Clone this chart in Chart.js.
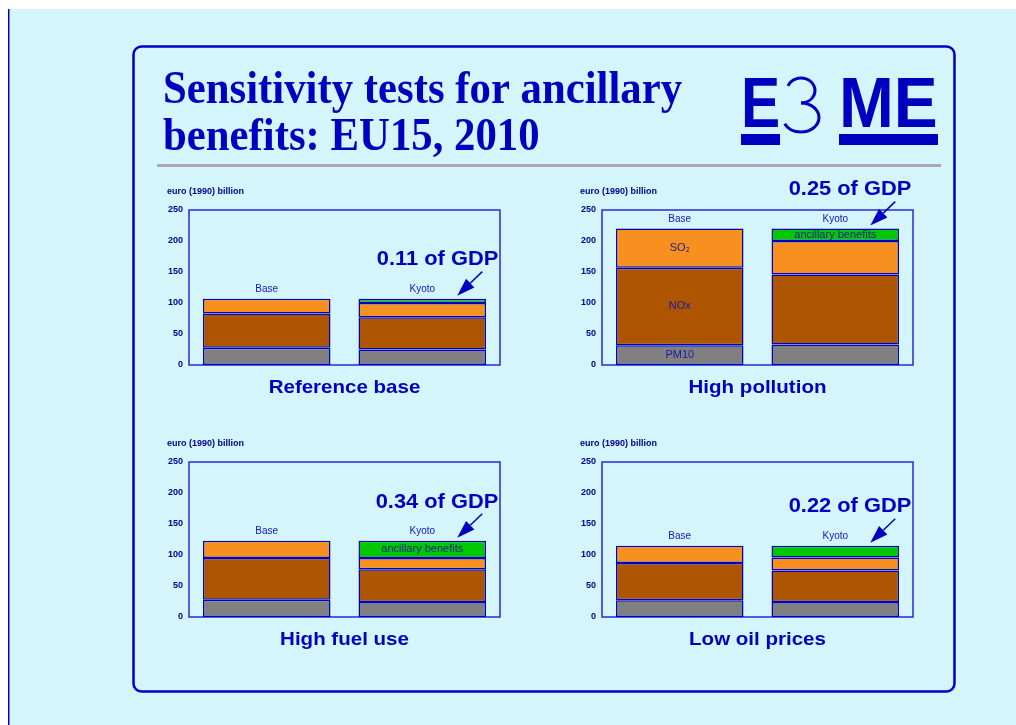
<!DOCTYPE html>
<html>
<head>
<meta charset="utf-8">
<title>Sensitivity tests for ancillary benefits: EU15, 2010</title>
<script src="https://cdn.jsdelivr.net/npm/chart.js@4.4.1/dist/chart.umd.min.js"></script>
<style>
  html, body { margin: 0; padding: 0; background: #fff; }
  #page { position: relative; width: 1016px; height: 725px; overflow: hidden; }
  #page canvas { position: absolute; }
</style>
</head>
<body>
<div id="page">
  <canvas id="backdrop" width="1016" height="725" style="left:0;top:0"></canvas>
  <canvas id="chart_1" width="361" height="230" style="left:149px;top:180px"></canvas>
  <canvas id="chart_2" width="361" height="230" style="left:562px;top:180px"></canvas>
  <canvas id="chart_3" width="361" height="230" style="left:149px;top:432px"></canvas>
  <canvas id="chart_4" width="361" height="230" style="left:562px;top:432px"></canvas>
</div>
<script>
// euro (1990) billion, EU15 2010 — one entry per scenario, [Base, Kyoto]
const scenarios = ['Reference base', 'High pollution', 'High fuel use', 'Low oil prices'];
const runs = ['Base', 'Kyoto'];
const pm10 = [[28, 25], [32, 33], [28, 24], [27, 24]];
const nox = [[55, 52], [125, 113], [67, 53], [60, 51]];
const so2 = [[24, 23], [63, 54], [28, 18], [28, 21]];
const ancillary = [[null, 7], [null, 20], [null, 28], [null, 19]];
const gdpShare = ['0.11', '0.25', '0.34', '0.22'];
const yTicks = [0, 50, 100, 150, 200, 250];

// segments that carry their own name inside the bar: [dataset, run]
const namedSegments = [
    [],
    [[0, 0], [1, 0], [2, 0], [3, 1]],
    [[3, 1]],
    []
];

const COLORS = {
    text: '#0000C0',
    frame: '#2828D2',
    edge: '#0000C0',
    pm10: '#808080',
    nox: '#AD5500',
    so2: '#F7901E',
    ancillary: '#00C800'
};

const FONT = '"Liberation Sans", Arial, sans-serif';

const drawBackdrop = () => {
    const ctx = document.getElementById('backdrop').getContext('2d');

    ctx.fillStyle = '#ffffff';
    ctx.fillRect(0, 0, 1016, 725);
    ctx.fillStyle = '#D4F5FC';
    ctx.fillRect(8, 9, 1008, 716);

    // left edge line
    ctx.fillStyle = '#0000C8';
    ctx.fillRect(8, 9, 1, 716);
    ctx.fillStyle = '#7878E6';
    ctx.fillRect(9, 9, 1, 716);

    // panel
    ctx.strokeStyle = '#0000C8';
    ctx.lineWidth = 2.5;
    ctx.beginPath();
    ctx.roundRect(133.5, 46.5, 821, 645, 8);
    ctx.stroke();

    // heading, a little narrower than the plain face
    ctx.fillStyle = COLORS.text;
    ctx.textBaseline = 'alphabetic';
    ctx.textAlign = 'left';
    ctx.save();
    ctx.translate(163, 0);
    ctx.scale(0.91, 1);
    ctx.font = 'bold 47px "Liberation Serif", "Times New Roman", serif';
    ctx.fillText('Sensitivity tests for ancillary', 0, 103);
    ctx.fillText('benefits: EU15, 2010', 0, 150);
    ctx.restore();

    // rule under the heading
    ctx.fillStyle = '#A9A9A9';
    ctx.fillRect(157, 164, 784, 3);

    // E3ME logo
    ctx.fillStyle = COLORS.text;
    ctx.save();
    ctx.translate(741, 127);
    ctx.scale(0.84, 1);
    ctx.font = 'bold 70px ' + FONT;
    ctx.fillText('E', 0, 0);
    ctx.restore();

    // thin "3" drawn as two open bowls
    ctx.strokeStyle = COLORS.text;
    ctx.lineWidth = 3;
    ctx.beginPath();
    ctx.ellipse(801, 90.5, 14, 12.5, 0, Math.PI * 1.12, Math.PI * 0.5);
    ctx.stroke();
    ctx.beginPath();
    ctx.ellipse(801, 117.5, 18, 14.5, 0, -Math.PI * 0.5, Math.PI * 0.86);
    ctx.stroke();

    ctx.save();
    ctx.translate(839, 127);
    ctx.scale(0.94, 1);
    ctx.font = 'bold 70px ' + FONT;
    ctx.fillText('ME', 0, 0);
    ctx.restore();

    ctx.fillRect(741, 134, 39, 11);
    ctx.fillRect(839, 134, 99, 11);
};

const stackTotal = (n, j) => pm10[n][j] + nox[n][j] + so2[n][j] + (ancillary[n][j] || 0);

const annotate = {
    id: 'annotate',
    beforeDatasetsDraw(chart) {
        const { ctx, chartArea: a } = chart;
        ctx.save();
        ctx.strokeStyle = COLORS.frame;
        ctx.lineWidth = 1.5;
        ctx.strokeRect(a.left, a.top, a.right - a.left, a.bottom - a.top);
        ctx.restore();
    },
    afterDatasetsDraw(chart, args, opts) {
        const { ctx, chartArea: a, scales: { y } } = chart;
        const n = opts.index;
        const meta = chart.getDatasetMeta(0);

        ctx.save();
        ctx.textBaseline = 'middle';

        // unit
        ctx.fillStyle = '#000090';
        ctx.textAlign = 'left';
        ctx.font = 'bold 9px ' + FONT;
        ctx.fillText('euro (1990) billion', a.left - 22, a.top - 18);

        // run names above each stack
        ctx.fillStyle = '#1414C8';
        ctx.textAlign = 'center';
        ctx.font = '10px ' + FONT;
        runs.forEach((run, j) => {
            const top = y.getPixelForValue(stackTotal(n, j));
            ctx.fillText(run, meta.data[j].x, top - 9);
        });

        // segment names
        ctx.fillStyle = '#1A1AA0';
        ctx.font = '11px ' + FONT;
        namedSegments[n].forEach(([d, j]) => {
            const el = chart.getDatasetMeta(d).data[j];
            ctx.fillText(chart.data.datasets[d].label, el.x, (el.y + el.base) / 2);
        });

        // share of GDP with arrow to the Kyoto stack
        const kyotoTop = y.getPixelForValue(stackTotal(n, 1));
        const tip = { x: meta.data[1].x + 35, y: kyotoTop - 3 };
        const tail = { x: tip.x + 25, y: tip.y - 24 };
        const ang = Math.atan2(tip.y - tail.y, tip.x - tail.x);
        const headLen = 18, headHalf = 6;
        const bx = tip.x - headLen * Math.cos(ang);
        const by = tip.y - headLen * Math.sin(ang);

        ctx.strokeStyle = COLORS.text;
        ctx.fillStyle = COLORS.text;
        ctx.lineWidth = 1.5;
        ctx.beginPath();
        ctx.moveTo(tail.x, tail.y);
        ctx.lineTo(bx, by);
        ctx.stroke();
        ctx.beginPath();
        ctx.moveTo(tip.x, tip.y);
        ctx.lineTo(bx + headHalf * Math.sin(ang), by - headHalf * Math.cos(ang));
        ctx.lineTo(bx - headHalf * Math.sin(ang), by + headHalf * Math.cos(ang));
        ctx.closePath();
        ctx.fill();

        ctx.save();
        ctx.translate(tail.x + 16, tail.y - 12);
        ctx.scale(1.04, 1);
        ctx.textAlign = 'right';
        ctx.font = 'bold 21px ' + FONT;
        ctx.fillText(gdpShare[n] + ' of GDP', 0, 0);
        ctx.restore();

        // scenario name under the frame
        ctx.save();
        ctx.translate((a.left + a.right) / 2, a.bottom + 23);
        ctx.scale(1.08, 1);
        ctx.textAlign = 'center';
        ctx.font = 'bold 19px ' + FONT;
        ctx.fillText(scenarios[n], 0, 0);
        ctx.restore();

        ctx.restore();
    }
};

const renderChart = (n) => {
    const series = [
        { label: 'PM10', data: pm10[n], backgroundColor: COLORS.pm10 },
        { label: 'NOx', data: nox[n], backgroundColor: COLORS.nox },
        { label: 'SO₂', data: so2[n], backgroundColor: COLORS.so2 },
        { label: 'ancillary benefits', data: ancillary[n], backgroundColor: COLORS.ancillary }
    ];
    series.forEach(ds => Object.assign(ds, {
        borderColor: COLORS.edge,
        borderWidth: 1.5,
        borderSkipped: false,
        categoryPercentage: 0.82,
        barPercentage: 1
    }));

    return new Chart(document.getElementById(`chart_${n + 1}`), {
        type: 'bar',
        data: { labels: runs, datasets: series },
        options: {
            responsive: false,
            animation: false,
            layout: { padding: { top: 30, right: 10, bottom: 45, left: 10 } },
            plugins: {
                legend: { display: false },
                tooltip: { enabled: false },
                annotate: { index: n }
            },
            scales: {
                x: { stacked: true, display: false },
                y: {
                    stacked: true,
                    min: 0,
                    max: 250,
                    grid: { display: false, drawTicks: false },
                    border: { display: false },
                    ticks: {
                        padding: 6,
                        color: '#000090',
                        font: { family: 'Liberation Sans', size: 9, weight: 'bold' }
                    },
                    afterBuildTicks: (scale) => {
                        scale.ticks = yTicks.map(v => ({ value: v }));
                    },
                    afterFit: (scale) => {
                        scale.width = 30;
                    }
                }
            }
        },
        plugins: [annotate]
    });
};

drawBackdrop();
scenarios.forEach((s, n) => renderChart(n));
</script>
</body>
</html>
